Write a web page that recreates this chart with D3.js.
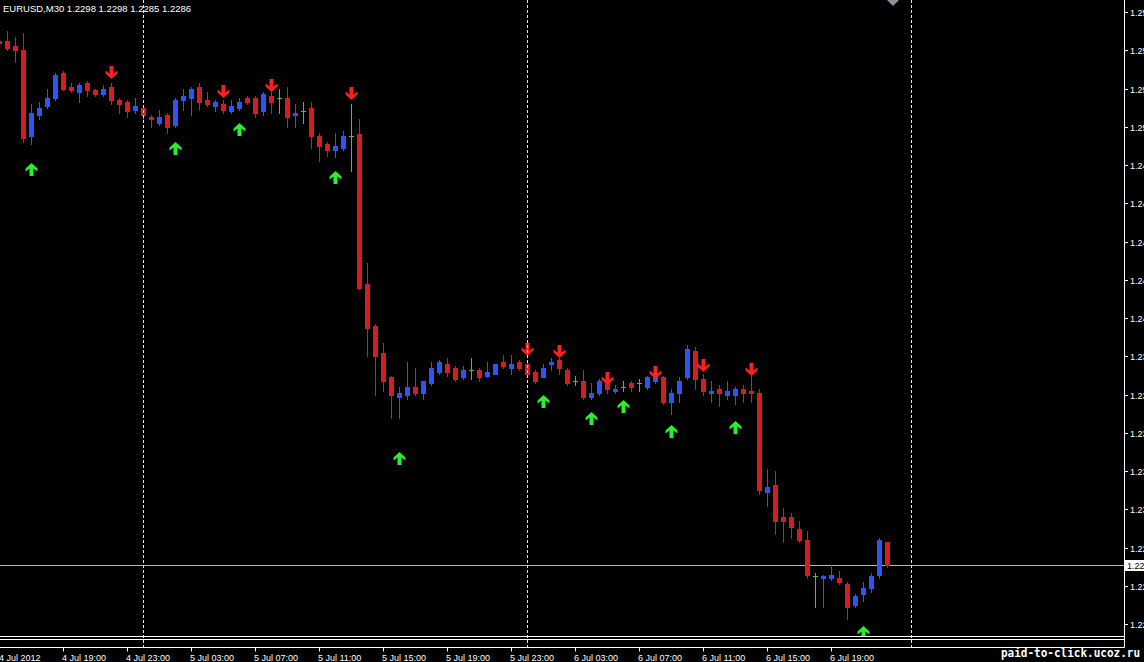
<!DOCTYPE html>
<html><head><meta charset="utf-8">
<script src="https://cdn.jsdelivr.net/npm/d3@7"></script>
<style>html,body{margin:0;padding:0;background:#000;overflow:hidden}</style>
</head><body>
<svg id="c" width="1144" height="662"></svg>
<script>
// ---- data (EURUSD M30, bar index 0 = 4 Jul 15:30, index 17 = 5 Jul 00:00) ----
const firstIndex = -1;
const openP = [1.2560,1.2560,1.2557,1.2555,1.2510,1.2521,1.2526,1.2530,1.2543,1.2536,1.2533,1.2538,1.2534,1.2532,1.2536,1.2529,1.2528,1.2524,1.2525,1.2520,1.2517,1.2521,1.2516,1.2529,1.2530,1.2536,1.2529,1.2526,1.2527,1.2523,1.2525,1.2530,1.2530,1.2523,1.2531,1.2530,1.2530,1.2521,1.2523,1.2525,1.2510,1.2506,1.2503,1.2504,1.2510,1.2511,1.2433,1.2411,1.2397,1.2384,1.2374,1.2375,1.2379,1.2376,1.2381,1.2387,1.2391,1.2389,1.2384,1.2388,1.2388,1.2385,1.2386,1.2392,1.2389,1.2392,1.2391,1.2387,1.2384,1.2391,1.2393,1.2388,1.2382,1.2382,1.2374,1.2376,1.2381,1.2377,1.2379,1.2381,1.2381,1.2379,1.2382,1.2384,1.2371,1.2376,1.2384,1.2398,1.2383,1.2376,1.2378,1.2375,1.2375,1.2378,1.2377,1.2376,1.2324,1.2328,1.2311,1.2311,1.2305,1.2299,1.2280,1.2279,1.2279,1.2279,1.2276,1.2265,1.2271,1.2274,1.2281,1.2298];
const highP = [1.2561,1.2565,1.2562,1.2564,1.2527,1.2528,1.2535,1.2543,1.2544,1.2538,1.2538,1.2539,1.2535,1.2537,1.2538,1.2530,1.2529,1.2530,1.2526,1.2521,1.2524,1.2522,1.2530,1.2535,1.2536,1.2538,1.2533,1.2529,1.2529,1.2529,1.2530,1.2531,1.2531,1.2533,1.2536,1.2535,1.2536,1.2527,1.2528,1.2528,1.2512,1.2507,1.2512,1.2513,1.2527,1.2519,1.2444,1.2412,1.2402,1.2385,1.2379,1.2392,1.2389,1.2382,1.2392,1.2393,1.2394,1.2390,1.2390,1.2394,1.2389,1.2392,1.2391,1.2396,1.2396,1.2393,1.2392,1.2388,1.2391,1.2394,1.2394,1.2389,1.2385,1.2388,1.2381,1.2383,1.2384,1.2380,1.2382,1.2382,1.2383,1.2385,1.2385,1.2385,1.2378,1.2384,1.2401,1.2400,1.2386,1.2382,1.2380,1.2382,1.2379,1.2380,1.2387,1.2378,1.2336,1.2335,1.2316,1.2313,1.2309,1.2304,1.2282,1.2281,1.2286,1.2283,1.2277,1.2271,1.2277,1.2282,1.2300,1.2298];
const lowP = [1.2558,1.2555,1.2549,1.2507,1.2506,1.2519,1.2525,1.2529,1.2534,1.2533,1.2528,1.2531,1.2531,1.2531,1.2527,1.2522,1.2520,1.2522,1.2519,1.2515,1.2516,1.2512,1.2515,1.2524,1.2521,1.2524,1.2526,1.2523,1.2522,1.2522,1.2524,1.2527,1.2520,1.2521,1.2522,1.2522,1.2515,1.2515,1.2517,1.2504,1.2497,1.2500,1.2499,1.2503,1.2492,1.2430,1.2395,1.2375,1.2377,1.2363,1.2363,1.2373,1.2375,1.2373,1.2380,1.2386,1.2385,1.2382,1.2383,1.2383,1.2382,1.2384,1.2386,1.2389,1.2386,1.2388,1.2385,1.2381,1.2384,1.2388,1.2386,1.2380,1.2380,1.2373,1.2373,1.2375,1.2376,1.2376,1.2377,1.2377,1.2377,1.2378,1.2381,1.2370,1.2365,1.2371,1.2383,1.2378,1.2375,1.2371,1.2369,1.2373,1.2370,1.2371,1.2371,1.2323,1.2317,1.2302,1.2298,1.2300,1.2298,1.2279,1.2264,1.2264,1.2278,1.2276,1.2258,1.2264,1.2267,1.2272,1.2279,1.2285];
const closeP = [1.2559,1.2556,1.2555,1.2509,1.2522,1.2525,1.2530,1.2542,1.2535,1.2534,1.2537,1.2534,1.2532,1.2535,1.2529,1.2527,1.2523,1.2526,1.2521,1.2519,1.2520,1.2515,1.2529,1.2531,1.2535,1.2528,1.2527,1.2528,1.2524,1.2526,1.2528,1.2528,1.2522,1.2532,1.2528,1.2530,1.2520,1.2522,1.2523,1.2510,1.2505,1.2503,1.2505,1.2510,1.2510,1.2431,1.2410,1.2395,1.2382,1.2375,1.2376,1.2379,1.2376,1.2382,1.2389,1.2392,1.2387,1.2383,1.2388,1.2388,1.2384,1.2387,1.2391,1.2390,1.2391,1.2389,1.2386,1.2382,1.2389,1.2392,1.2389,1.2381,1.2382,1.2374,1.2376,1.2382,1.2378,1.2378,1.2379,1.2379,1.2381,1.2384,1.2384,1.2371,1.2376,1.2382,1.2399,1.2383,1.2377,1.2377,1.2376,1.2377,1.2378,1.2376,1.2376,1.2325,1.2327,1.2309,1.2309,1.2306,1.2299,1.2281,1.2280,1.2280,1.2281,1.2277,1.2264,1.2270,1.2274,1.2280,1.2299,1.2286];

const sellIdx = [13,27,33,43,65,69,75,81,87,93];
const sellPrice = [1.2540,1.2530,1.2533,1.2529,1.2395,1.2394,1.2380,1.2383,1.2387,1.2385];
const buyIdx = [3,21,29,41,49,67,73,77,83,91,107];
const buyPrice = [1.2496,1.2507,1.2517,1.2492,1.2345,1.2375,1.2366,1.2372,1.2359,1.2361,1.2254];

const priceTicks = [1.2575,1.2555,1.2535,1.2515,1.2495,1.2475,1.2455,1.2435,1.2415,1.2395,1.2375,1.2355,1.2335,1.2315,1.2295,1.2275,1.2255];
const timeTickIdx = [7,15,23,31,39,47,55,63,71,79,87,95,103];
const timeTickLabels = ["4 Jul 19:00","4 Jul 23:00","5 Jul 03:00","5 Jul 07:00","5 Jul 11:00","5 Jul 15:00","5 Jul 19:00","5 Jul 23:00","6 Jul 03:00","6 Jul 07:00","6 Jul 11:00","6 Jul 15:00","6 Jul 19:00"];
const firstDateLabel = "4 Jul 2012";
const separatorIdx = [17,65,113];
const headerText = "EURUSD,M30  1.2298 1.2298 1.2285 1.2286";
const bidPrice = 1.2286;
const watermark = "paid-to-click.ucoz.ru";

// ---- drawing ----
const W = 1144, H = 662;
const plotRight = 1124.5, mainBottom = 636.5, subTop = 639.5, subBottom = 647.5;
const svg = d3.select("#c");
svg.append("rect").attr("width", W).attr("height", H).attr("fill", "#000");

const x = d3.scaleLinear().domain([0, 113]).range([7.5, 911.5]);
const y = d3.scaleLinear().domain([1.2255, 1.2575]).range([624.3, 12]);
const py = p => Math.round(y(p)) + 0.5;

const bars = openP.map((o, i) => ({i: i + firstIndex, o, h: highP[i], l: lowP[i], c: closeP[i]}));
const colUp = "#2d55f2", colDn = "#d21e1e", colDoji = "#3cc83c";
const colorOf = d => d.c > d.o ? colUp : (d.c < d.o ? colDn : colDoji);

const clip = svg.append("defs").append("clipPath").attr("id", "plot")
  .append("rect").attr("x", 0).attr("y", 0).attr("width", plotRight).attr("height", mainBottom);
const plot = svg.append("g").attr("clip-path", "url(#plot)");

// period separators
svg.append("g").selectAll("line").data(separatorIdx).join("line")
  .attr("x1", d => x(d)).attr("x2", d => x(d)).attr("y1", 0).attr("y2", subBottom)
  .attr("stroke", "#e6e6e6").attr("stroke-width", 1).attr("stroke-dasharray", "3,2");

// bid line
plot.append("line").attr("x1", 0).attr("x2", plotRight).attr("y1", py(bidPrice)).attr("y2", py(bidPrice))
  .attr("stroke", "#b8b8b8").attr("stroke-width", 1);

// wicks
plot.append("g").selectAll("line").data(bars).join("line")
  .attr("x1", d => x(d.i)).attr("x2", d => x(d.i))
  .attr("y1", d => py(d.h) - 0.5).attr("y2", d => py(d.l) + 0.5)
  .attr("stroke", colorOf).attr("stroke-width", 1);

// bodies
plot.append("g").selectAll("rect").data(bars.filter(d => d.o !== d.c)).join("rect")
  .attr("x", d => x(d.i) - 2).attr("width", 4)
  .attr("y", d => Math.min(py(d.o), py(d.c)))
  .attr("height", d => Math.max(1, Math.abs(py(d.o) - py(d.c))))
  .attr("fill", colorOf).attr("stroke", colorOf).attr("stroke-width", 1);

// doji dashes
plot.append("g").selectAll("line").data(bars.filter(d => d.o === d.c)).join("line")
  .attr("x1", d => x(d.i) - 2.5).attr("x2", d => x(d.i) + 2.5)
  .attr("y1", d => py(d.o)).attr("y2", d => py(d.o))
  .attr("stroke", colDoji).attr("stroke-width", 1);

// arrows
const upPath = "M0,0 L6,5.5 L6,8.5 L2,5.5 L2,13 L-2,13 L-2,5.5 L-6,8.5 L-6,5.5 Z";
plot.append("g").selectAll("path").data(buyIdx.map((d, k) => ({i: d, p: buyPrice[k]}))).join("path")
  .attr("d", upPath).attr("fill", "#2af02a")
  .attr("transform", d => `translate(${x(d.i)},${Math.round(y(d.p))})`);
plot.append("g").selectAll("path").data(sellIdx.map((d, k) => ({i: d, p: sellPrice[k]}))).join("path")
  .attr("d", upPath).attr("fill", "#ff2020")
  .attr("transform", d => `translate(${x(d.i)},${Math.round(y(d.p))}) scale(1,-1)`);

// frame lines
const frame = svg.append("g").attr("stroke", "#fff").attr("stroke-width", 1);
frame.append("line").attr("x1", plotRight).attr("x2", plotRight).attr("y1", 0).attr("y2", subBottom);
frame.append("line").attr("x1", 0).attr("x2", plotRight).attr("y1", mainBottom).attr("y2", mainBottom);
frame.append("line").attr("x1", 0).attr("x2", plotRight).attr("y1", subTop).attr("y2", subTop);
frame.append("line").attr("x1", 0).attr("x2", plotRight).attr("y1", subBottom).attr("y2", subBottom);

// price axis
const yAxisG = svg.append("g");
yAxisG.selectAll("line").data(priceTicks).join("line")
  .attr("x1", plotRight).attr("x2", plotRight + 3.5).attr("y1", d => py(d)).attr("y2", d => py(d))
  .attr("stroke", "#fff");
yAxisG.selectAll("text").data(priceTicks).join("text")
  .attr("x", 1130).attr("y", d => Math.round(y(d)) + 3.5)
  .attr("fill", "#fff").attr("font-family", "Liberation Sans, Arial, sans-serif").attr("font-size", "9px")
  .text(d => d.toFixed(4));

// bid box
const by = Math.round(y(bidPrice));
svg.append("rect").attr("x", 1125).attr("y", by - 5).attr("width", 19).attr("height", 11).attr("fill", "#fff");
svg.append("text").attr("x", 1127).attr("y", by + 3.5).attr("fill", "#000")
  .attr("font-family", "Liberation Sans, Arial, sans-serif").attr("font-size", "9px").text(bidPrice.toFixed(4));

// time axis
const tAxis = svg.append("g");
tAxis.selectAll("line").data(timeTickIdx).join("line")
  .attr("x1", d => x(d)).attr("x2", d => x(d)).attr("y1", subBottom).attr("y2", subBottom + 4)
  .attr("stroke", "#fff");
tAxis.selectAll("text").data(timeTickIdx).join("text")
  .attr("x", d => x(d) - 1.5).attr("y", 661)
  .attr("fill", "#fff").attr("font-family", "Liberation Sans, Arial, sans-serif").attr("font-size", "9px")
  .text((d, k) => timeTickLabels[k]);
svg.append("text").attr("x", -1).attr("y", 661)
  .attr("fill", "#fff").attr("font-family", "Liberation Sans, Arial, sans-serif").attr("font-size", "9px")
  .text(firstDateLabel);

// header
svg.append("text").attr("x", 3).attr("y", 12)
  .attr("fill", "#fff").attr("font-family", "Liberation Sans, Arial, sans-serif").attr("font-size", "9.5px")
  .text(headerText);

// shift marker
svg.append("path").attr("d", "M887,0 L899,0 L893,6 Z").attr("fill", "#8b93a0");

// watermark
svg.append("text").attr("x", 1001).attr("y", 657)
  .attr("fill", "#fff").attr("font-family", "DejaVu Sans Mono, monospace").attr("font-weight", "bold")
  .attr("font-size", "12px").attr("textLength", 139).attr("lengthAdjust", "spacingAndGlyphs")
  .text(watermark);
</script>
</body></html>
